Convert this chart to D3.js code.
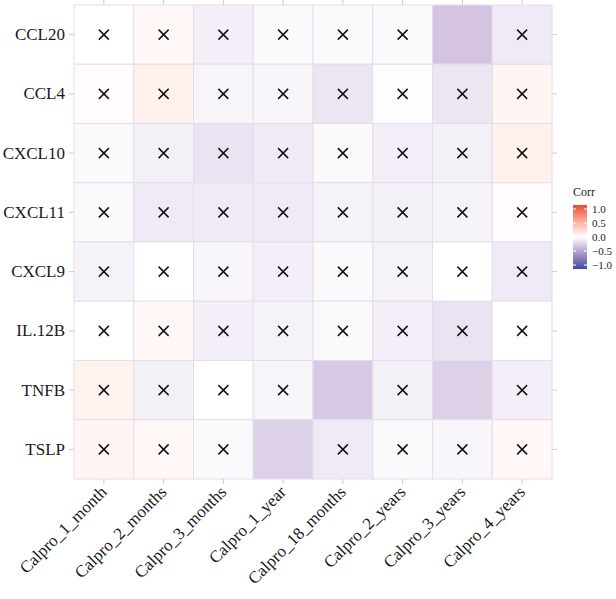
<!DOCTYPE html>
<html><head><meta charset="utf-8">
<script src="https://cdn.jsdelivr.net/npm/d3@7"></script>
<style>body{margin:0;background:#fff}svg{display:block}text{font-family:"Liberation Serif","DejaVu Serif",serif}</style>
</head><body><svg id="c" width="616" height="599"></svg>
<script>
const rows = ["CCL20","CCL4","CXCL10","CXCL11","CXCL9","IL.12B","TNFB","TSLP"];
const cols = ["Calpro_1_month","Calpro_2_months","Calpro_3_months","Calpro_1_year","Calpro_18_months","Calpro_2_years","Calpro_3_years","Calpro_4_years"];
// correlation values per row (columns in order above)
const corrCCL20  = [ 0.00, 0.04,-0.08,-0.03,-0.03,-0.03,-0.28,-0.10];
const corrCCL4   = [ 0.02, 0.08,-0.05,-0.04,-0.12,-0.01,-0.12, 0.05];
const corrCXCL10 = [-0.03,-0.07,-0.13,-0.10,-0.03,-0.08,-0.07, 0.08];
const corrCXCL11 = [-0.03,-0.10,-0.10,-0.10,-0.06,-0.07,-0.06, 0.02];
const corrCXCL9  = [-0.06, 0.00,-0.04,-0.08,-0.03,-0.06, 0.00,-0.10];
const corrIL12B  = [ 0.00, 0.04,-0.08,-0.06,-0.03,-0.08,-0.13, 0.00];
const corrTNFB   = [ 0.07,-0.07, 0.00,-0.05,-0.26,-0.07,-0.22,-0.08];
const corrTSLP   = [ 0.05, 0.04,-0.03,-0.22,-0.10,-0.03,-0.04, 0.04];
// 1 = not significant (crossed out)
const insigCCL20  = [1,1,1,1,1,1,0,1];
const insigCCL4   = [1,1,1,1,1,1,1,1];
const insigCXCL10 = [1,1,1,1,1,1,1,1];
const insigCXCL11 = [1,1,1,1,1,1,1,1];
const insigCXCL9  = [1,1,1,1,1,1,1,1];
const insigIL12B  = [1,1,1,1,1,1,1,1];
const insigTNFB   = [1,1,1,1,0,1,0,1];
const insigTSLP   = [1,1,1,0,1,1,1,1];
const legendBreaks = [1.0, 0.5, 0.0, -0.5, -1.0];
const legendTitle = "Corr";

const corrRows = [corrCCL20,corrCCL4,corrCXCL10,corrCXCL11,corrCXCL9,corrIL12B,corrTNFB,corrTSLP];
const insigRows = [insigCCL20,insigCCL4,insigCXCL10,insigCXCL11,insigCXCL9,insigIL12B,insigTNFB,insigTSLP];
const cells = [];
rows.forEach((r,i)=>cols.forEach((c,j)=>cells.push({r,c,v:corrRows[i][j],ns:insigRows[i][j]})));

const svg = d3.select("#c");
const L=74, R=552, T=5, B=479;
const x = d3.scaleBand().domain(cols).range([L,R]);
const y = d3.scaleBand().domain(rows).range([T,B]);
const color = d3.scaleLinear().domain([-1,-0.4,0,1]).range(["#3C4BA0","#C1ACD6","#FFFFFF","#E64B35"]).interpolate(d3.interpolateLab);

svg.append("g").selectAll("rect").data(cells).join("rect")
  .attr("x",d=>x(d.c)).attr("y",d=>y(d.r))
  .attr("width",x.bandwidth()).attr("height",y.bandwidth())
  .attr("fill",d=>color(d.v)).attr("stroke","#e3dfe7").attr("stroke-width",1);

const s=5;
svg.append("g").selectAll("path").data(cells.filter(d=>d.ns)).join("path")
  .attr("d",d=>{const cx=x(d.c)+x.bandwidth()/2, cy=y(d.r)+y.bandwidth()/2;
    return `M${cx-s},${cy-s}L${cx+s},${cy+s}M${cx-s},${cy+s}L${cx+s},${cy-s}`;})
  .attr("stroke","#111").attr("stroke-width",1.5).attr("fill","none");

// axes
const ax = svg.append("g").attr("transform",`translate(0,${B})`).call(d3.axisBottom(x).tickSize(5).tickSizeOuter(0));
ax.select(".domain").remove();
ax.selectAll(".tick line").attr("stroke","#cccccc");
ax.selectAll(".tick text").attr("font-size",17).attr("fill","#1a1a1a")
  .attr("text-anchor","end").attr("dy",0).attr("y",0)
  .attr("transform","translate(4,14) rotate(-45)");
const ay = svg.append("g").attr("transform",`translate(${L},0)`).call(d3.axisLeft(y).tickSize(5).tickPadding(4).tickSizeOuter(0));
ay.select(".domain").remove();
ay.selectAll(".tick line").attr("stroke","#cccccc");
ay.selectAll(".tick text").attr("font-size",17).attr("fill","#1a1a1a");
const axT = svg.append("g").attr("transform",`translate(0,${T})`).call(d3.axisTop(x).tickSize(5).tickSizeOuter(0).tickFormat(""));
axT.select(".domain").remove(); axT.selectAll(".tick line").attr("stroke","#cccccc");
const ayR = svg.append("g").attr("transform",`translate(${R},0)`).call(d3.axisRight(y).tickSize(5).tickSizeOuter(0).tickFormat(""));
ayR.select(".domain").remove(); ayR.selectAll(".tick line").attr("stroke","#cccccc");

// legend
const lgX=573, lgW=14, lgT=205, lgB=269;
const ly = d3.scaleLinear().domain([1,-1]).range([lgT+4,lgB-4]);
const defs = svg.append("defs");
const grad = defs.append("linearGradient").attr("id","g").attr("x1",0).attr("y1",0).attr("x2",0).attr("y2",1);
d3.range(0,41).forEach(i=>{const v=1-i/20; grad.append("stop").attr("offset",i/40).attr("stop-color",color(v));});
svg.append("text").attr("x",lgX).attr("y",lgT-9).attr("font-size",12).attr("fill","#1a1a1a").text(legendTitle);
svg.append("rect").attr("x",lgX).attr("y",lgT).attr("width",lgW).attr("height",lgB-lgT).attr("fill","url(#g)");
const lg = svg.append("g");
legendBreaks.forEach(b=>{
  lg.append("line").attr("x1",lgX).attr("x2",lgX+3).attr("y1",ly(b)).attr("y2",ly(b)).attr("stroke","#fff");
  lg.append("line").attr("x1",lgX+lgW-3).attr("x2",lgX+lgW).attr("y1",ly(b)).attr("y2",ly(b)).attr("stroke","#fff");
  lg.append("text").attr("x",lgX+lgW+5).attr("y",ly(b)).attr("dy","0.35em").attr("font-size",11).attr("fill","#1a1a1a")
    .text(b<0?"\u2212"+d3.format(".1f")(-b):d3.format(".1f")(b));
});
</script></body></html>
